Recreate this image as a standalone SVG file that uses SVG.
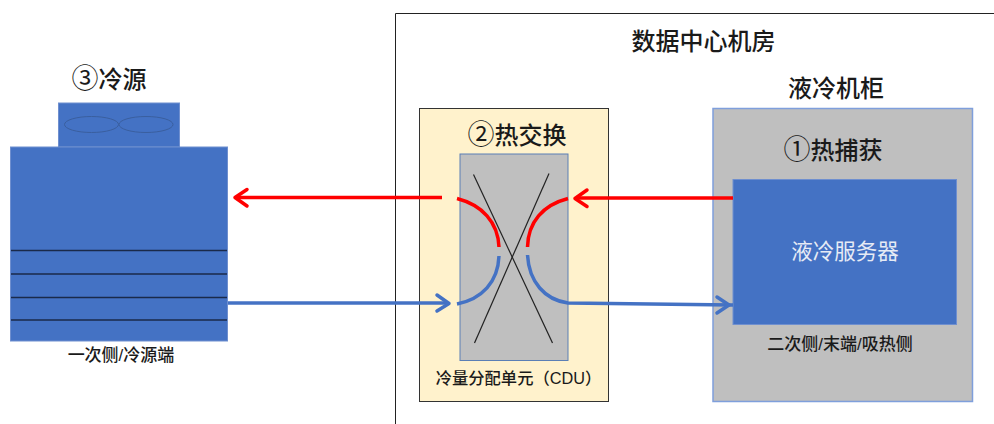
<svg xmlns="http://www.w3.org/2000/svg" width="994" height="424" viewBox="0 0 994 424">
<style>
text{font-family:"Liberation Sans","Noto Sans CJK SC",sans-serif;fill:#1a1a1a;text-anchor:middle}
.h{font-size:24px;font-weight:500}
.n{font-size:27px;font-weight:400}
.s{font-size:17px;font-weight:500}
.blue{fill:#4472c4;stroke:#6f8fcf;stroke-width:1}
.gray{fill:#bfbfbf}
.r{fill:none;stroke:#ff0000;stroke-width:3.5}
.b{fill:none;stroke:#4472c4;stroke-width:3.5}
.k{stroke:#1a2a4a;stroke-width:1.3}
.x{stroke:#222;stroke-width:1.2}
.ar{fill:none;stroke-width:3.5;stroke-linecap:round;stroke-linejoin:round}
</style>
<rect width="994" height="424" fill="#fff"/>
<g id="room"><path d="M395.500 424V13.500H994" fill="none" stroke="#222" stroke-width="1"/>
<text class="h" x="703.500" y="50">数据中心机房</text></g>
<g id="cold-source">
<text class="h" x="109" y="88"><tspan class="n">③</tspan>冷源</text>
<rect class="blue" x="58.500" y="103" width="121" height="44"/>
<ellipse cx="91.500" cy="124.500" rx="27" ry="8" fill="none" stroke="#3a5f9f"/>
<ellipse cx="146" cy="124.500" rx="27" ry="8" fill="none" stroke="#3a5f9f"/>
<rect class="blue" x="10.500" y="147" width="217" height="194"/>
<line class="k" x1="11" x2="227" y1="250.500" y2="250.500"/>
<line class="k" x1="11" x2="227" y1="274" y2="274"/>
<line class="k" x1="11" x2="227" y1="297.500" y2="297.500"/>
<line class="k" x1="11" x2="227" y1="320" y2="320"/>
<text class="s" x="121" y="361">一次侧/冷源端</text>
</g>
<g id="cdu">
<rect x="419.500" y="108.500" width="189" height="293" fill="#fff2cc" stroke="#333"/>
<text class="h" x="517" y="144"><tspan class="n">②</tspan>热交换</text>
<rect x="460" y="154" width="108" height="206.500" fill="#bfbfbf" stroke="#5b7fb5"/>
<line class="x" x1="473.500" y1="174.500" x2="552.500" y2="343"/>
<line class="x" x1="549" y1="173.500" x2="474.500" y2="343"/>
<text class="s" x="518.500" y="384" style="font-size:16.300px">冷量分配单元（CDU）</text>
</g>
<g id="cabinet">
<rect class="gray" x="713" y="108.500" width="259.500" height="293" stroke="#7f9fdc" stroke-width="1.500"/>
<text class="h" x="836" y="97">液冷机柜</text>
<text class="h" x="833" y="159"><tspan class="n">①</tspan>热捕获</text>
</g>
<g id="server">
<rect class="blue" x="733" y="179.500" width="223.500" height="145"/>
<text x="845" y="259" font-size="21.500px" style="fill:#e6ebf5">液冷服务器</text>
<text class="s" x="840" y="350">二次侧/末端/吸热侧</text>
</g>
<g id="connectors">
<path class="r" d="M442 197.500H236"/>
<path class="ar" stroke="#ff0000" d="M247 189.500L235 197.500L247 206"/>
<path class="r" d="M733 198H576"/>
<path class="ar" stroke="#ff0000" d="M587 190L575 198.500L587 206.500"/>
<path class="r" d="M457 198.500C482 205 498 222 499 247"/>
<path class="r" d="M568 198.500C543 205 528 222 527.500 247"/>
<path class="b" d="M499 256C498 282 482 299 457 304"/>
<path class="b" d="M527.500 255C529 282 545 300 568 303L733 305"/>
<path class="b" d="M228 303H447"/>
<path class="ar" stroke="#4472c4" d="M437 295L449 303.500L437 311"/>
<path class="ar" stroke="#4472c4" d="M717 297L729 305L717 313"/>
</g>
</svg>
